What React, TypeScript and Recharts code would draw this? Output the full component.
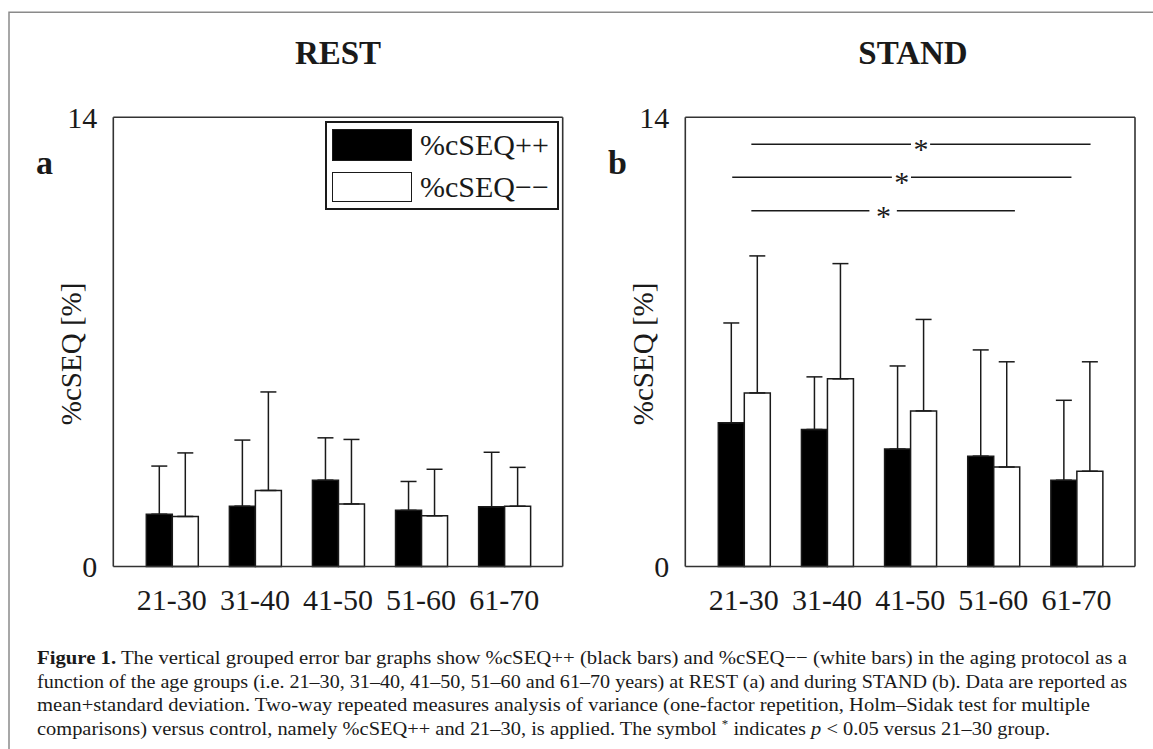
import React from 'react';
import { BarChart, Bar, XAxis, YAxis, ErrorBar, Legend, ReferenceLine, ReferenceDot } from 'recharts';

// ---- data ----
const ageGroups = ['21-30', '31-40', '41-50', '51-60', '61-70'];
const seriesNames = ['%cSEQ++', '%cSEQ\u2212\u2212'];
const yTicks = [0, 14];
const yDomain = [0, 14];

// REST (panel a)
const restPlusMean = [1.63, 1.88, 2.69, 1.75, 1.86];
const restPlusSd = [1.5, 2.06, 1.32, 0.9, 1.7];
const restMinusMean = [1.56, 2.37, 1.95, 1.58, 1.88];
const restMinusSd = [1.98, 3.07, 2.01, 1.45, 1.21];

// STAND (panel b)
const standPlusMean = [4.48, 4.27, 3.66, 3.44, 2.69];
const standPlusSd = [3.11, 1.64, 2.59, 3.31, 2.49];
const standMinusMean = [5.41, 5.85, 4.85, 3.1, 2.97];
const standMinusSd = [4.27, 3.59, 2.85, 3.28, 3.41];

// significance bars in panel b (x in category units 0..5, y in %)
const sigLevels = [13.16, 12.13, 11.09];
const sigStarts = [0.59, 0.36, 0.59];
const sigEnds = [4.67, 4.44, 3.76];
const sigGapStarts = [2.51, 2.28, 2.01];
const sigGapEnds = [2.74, 2.51, 2.34];
const sigStarX = [2.63, 2.4, 2.18];

const FONT = '"Liberation Serif", "Times New Roman", Times, serif';
const INK = '#1a1a1a';
const FRAME = '#333';

function buildData(pm: number[], ps: number[], mm: number[], ms: number[]) {
  return ageGroups.map((g, i) => ({
    group: g,
    pos: i + 0.5,
    plus: pm[i],
    minus: mm[i],
    plusErr: [0, ps[i]],
    minusErr: [0, ms[i]],
  }));
}

const restData = buildData(restPlusMean, restPlusSd, restMinusMean, restMinusSd);
const standData = buildData(standPlusMean, standPlusSd, standMinusMean, standMinusSd);

const yLabel = (props: any) => {
  const vb = props.viewBox || {};
  const cx = vb.x + vb.width / 2;
  const cy = vb.y + vb.height / 2 + 12;
  return (
    <text
      x={cx}
      y={cy}
      transform={`rotate(-90 ${cx} ${cy})`}
      textAnchor="middle"
      dominantBaseline="central"
      fontSize={29}
      fontFamily={FONT}
      fill={INK}
    >
      %cSEQ [%]
    </text>
  );
};

const LegendBox = (props: any) => {
  const payload = props.payload || [];
  return (
    <div
      style={{
        width: 234,
        height: 89,
        boxSizing: 'border-box',
        border: `2px solid ${INK}`,
        background: '#fff',
        position: 'relative',
        fontFamily: FONT,
      }}
    >
      {payload.map((entry: any, i: number) => (
        <div
          key={i}
          style={{
            position: 'absolute',
            left: 5,
            top: i === 0 ? 6 : 48,
            display: 'flex',
            alignItems: 'center',
            whiteSpace: 'nowrap',
          }}
        >
          <div
            style={{
              width: 80,
              height: i === 0 ? 32 : 30,
              background: entry.color,
              border: `1.5px solid ${INK}`,
              boxSizing: 'border-box',
            }}
          />
          <span style={{ marginLeft: 8, fontSize: 30, lineHeight: '32px', color: INK }}>{entry.value}</span>
        </div>
      ))}
    </div>
  );
};

const starShape = (props: any) => (
  <text x={props.cx} y={props.cy + 15} textAnchor="middle" fontSize={30} fontFamily={FONT} fill={INK}>
    *
  </text>
);

function Panel({
  data,
  width,
  marginLeft,
  marginRight,
  legend,
  sig,
}: {
  data: any[];
  width: number;
  marginLeft: number;
  marginRight: number;
  legend: boolean;
  sig: boolean;
}) {
  const tickStyle = { fontSize: 30, fill: INK, fontFamily: FONT };
  const axisLine = { stroke: FRAME, strokeWidth: 1.6 };
  return (
    <BarChart
      width={width}
      height={640}
      data={data}
      margin={{ top: 116.3, right: marginRight, bottom: 43.5, left: marginLeft }}
      barGap={0}
      barSize={26}
    >
      <XAxis
        xAxisId={0}
        dataKey="group"
        type="category"
        padding={{ left: 17, right: 17 }}
        axisLine={axisLine}
        tickLine={false}
        tick={tickStyle}
        tickMargin={16}
        height={30}
        interval={0}
      />
      <XAxis
        xAxisId="top"
        orientation="top"
        dataKey="pos"
        type="number"
        domain={[0, 5]}
        allowDataOverflow={true}
        padding={{ left: 17, right: 17 }}
        height={1}
        tick={false}
        tickLine={false}
        axisLine={axisLine}
      />
      <YAxis
        yAxisId={0}
        domain={yDomain}
        ticks={yTicks}
        interval={0}
        width={84}
        axisLine={axisLine}
        tickLine={false}
        tick={tickStyle}
        tickMargin={10}
        label={yLabel}
      />
      <YAxis
        yAxisId="right"
        orientation="right"
        domain={yDomain}
        allowDataOverflow={true}
        width={1}
        tick={false}
        tickLine={false}
        axisLine={axisLine}
      />
      <Bar dataKey="plus" name={seriesNames[0]} fill="#000" stroke={INK} strokeWidth={1.5} isAnimationActive={false}>
        <ErrorBar dataKey="plusErr" direction="y" width={8} stroke={INK} strokeWidth={1.5} />
      </Bar>
      <Bar dataKey="minus" name={seriesNames[1]} fill="#fff" stroke={INK} strokeWidth={1.5} isAnimationActive={false}>
        <ErrorBar dataKey="minusErr" direction="y" width={8} stroke={INK} strokeWidth={1.5} />
      </Bar>
      {legend && (
        <Legend
          layout="horizontal"
          verticalAlign="middle"
          align="center"
          wrapperStyle={{ position: 'absolute', left: 325, top: 120.5, width: 234, height: 89 }}
          content={LegendBox}
        />
      )}
      {sig &&
        sigLevels.map((lv, i) => (
          <ReferenceLine
            key={`sa${i}`}
            xAxisId="top"
            segment={[
              { x: sigStarts[i], y: lv },
              { x: sigGapStarts[i], y: lv },
            ]}
            stroke={INK}
            strokeWidth={1.5}
          />
        ))}
      {sig &&
        sigLevels.map((lv, i) => (
          <ReferenceLine
            key={`sb${i}`}
            xAxisId="top"
            segment={[
              { x: sigGapEnds[i], y: lv },
              { x: sigEnds[i], y: lv },
            ]}
            stroke={INK}
            strokeWidth={1.5}
          />
        ))}
      {sig &&
        sigLevels.map((lv, i) => (
          <ReferenceDot key={`st${i}`} xAxisId="top" x={sigStarX[i]} y={lv} r={0} shape={starShape} />
        ))}
    </BarChart>
  );
}

export default function App() {
  return (
    <div style={{ position: 'absolute', left: 0, top: 0, width: 1153, height: 749, background: '#fff', overflow: 'hidden' }}>
      <svg width={1153} height={749} style={{ position: 'absolute', left: 0, top: 0 }}>
        <polyline points="9,760 9,12.3 1160,12.3" fill="none" stroke="#8a8a8a" strokeWidth={1.5} />
        <text x={338} y={64} textAnchor="middle" fontSize={33} fontWeight="bold" fontFamily={FONT} fill={INK}>
          REST
        </text>
        <text x={913} y={64} textAnchor="middle" fontSize={33} fontWeight="bold" fontFamily={FONT} fill={INK}>
          STAND
        </text>
        <text x={36} y={174} fontSize={34} fontWeight="bold" fontFamily={FONT} fill={INK}>
          a
        </text>
        <text x={608} y={174} fontSize={34} fontWeight="bold" fontFamily={FONT} fill={INK}>
          b
        </text>
        <g fontFamily={FONT} fontSize={19} fill={INK}>
          <text x={37} y={664} textLength={1090} lengthAdjust="spacingAndGlyphs">
            <tspan fontWeight="bold">Figure 1.</tspan> The vertical grouped error bar graphs show %cSEQ++ (black bars) and
            %cSEQ{'\u2212\u2212'} (white bars) in the aging protocol as a
          </text>
          <text x={37} y={687.5} textLength={1090} lengthAdjust="spacingAndGlyphs">
            function of the age groups (i.e. 21{'\u2013'}30, 31{'\u2013'}40, 41{'\u2013'}50, 51{'\u2013'}60 and 61{'\u2013'}70
            years) at REST (a) and during STAND (b). Data are reported as
          </text>
          <text x={37} y={711} textLength={1053} lengthAdjust="spacingAndGlyphs">
            mean+standard deviation. Two-way repeated measures analysis of variance (one-factor repetition, Holm{'\u2013'}Sidak
            test for multiple
          </text>
          <text x={37} y={734.5} textLength={1013} lengthAdjust="spacingAndGlyphs">
            comparisons) versus control, namely %cSEQ++ and 21{'\u2013'}30, is applied. The symbol{' '}
            <tspan dy={-7} fontSize={12}>*</tspan>
            <tspan dy={7}> indicates </tspan>
            <tspan fontStyle="italic">p</tspan> {'<'} 0.05 versus 21{'\u2013'}30 group.
          </text>
        </g>
      </svg>
      <div style={{ position: 'absolute', left: 0, top: 0 }}>
        <Panel data={restData} width={576} marginLeft={29.3} marginRight={12.3} legend={true} sig={false} />
      </div>
      <div style={{ position: 'absolute', left: 576, top: 0 }}>
        <Panel data={standData} width={577} marginLeft={25.3} marginRight={17} legend={false} sig={true} />
      </div>
    </div>
  );
}
